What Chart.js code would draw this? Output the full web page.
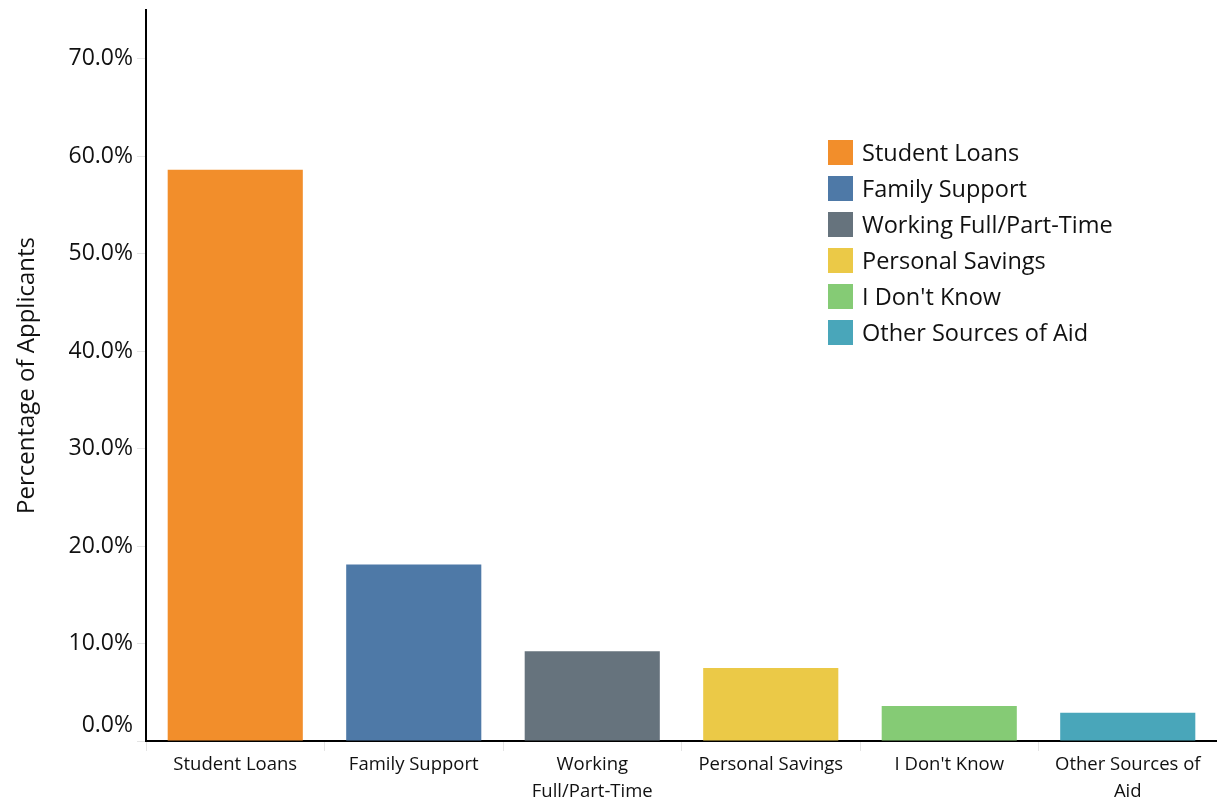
<!DOCTYPE html>
<html>
<head>
<meta charset="utf-8">
<script src="https://cdn.jsdelivr.net/npm/chart.js@4.4.1/dist/chart.umd.min.js"></script>
<style>
  html, body { margin: 0; padding: 0; background: #fff; }
  #wrap { position: relative; width: 1217px; height: 802px; }
  #legend { position: absolute; left: 828px; top: 134px; font-family: "Open Sans", sans-serif; font-size: 23.5px; color: #111; }
  .item { display: flex; align-items: center; height: 36px; }
  .box { width: 25px; height: 25px; margin-right: 9px; }
</style>
</head>
<body>
<div id="wrap">
  <canvas id="chart" width="1217" height="802"></canvas>
  <div id="legend"></div>
</div>
<script>
// =============== DATA ===============
const categories = ["Student Loans", "Family Support", "Working Full/Part-Time", "Personal Savings", "I Don't Know", "Other Sources of Aid"];
const axisLabels = [["Student Loans"], ["Family Support"], ["Working", "Full/Part-Time"], ["Personal Savings"], ["I Don't Know"], ["Other Sources of", "Aid"]];
const shares = [58.6, 18.1, 9.2, 7.5, 3.6, 2.9];
const colors = ["#F28E2B", "#4E79A7", "#66737D", "#EBC947", "#85CB75", "#49A6BA"];
const yTicks = [0, 10, 20, 30, 40, 50, 60, 70];

const FONT = "'Open Sans', sans-serif";

// Draw y tick labels by hand so the 0.0% label can sit a bit higher
const yLabelPlugin = {
  id: "yLabels",
  afterDraw(chart) {
    const { ctx } = chart;
    const y = chart.scales.y;
    ctx.save();
    ctx.font = `23px ${FONT}`;
    ctx.fillStyle = "#111";
    ctx.textAlign = "right";
    ctx.textBaseline = "middle";
    yTicks.forEach((v) => {
      const py = y.getPixelForValue(v) - (v === 0 ? 16 : 0);
      ctx.fillText(v.toFixed(1) + "%", 133, py);
    });
    ctx.restore();
  },
};

new Chart(document.getElementById("chart"), {
  type: "bar",
  data: {
    labels: axisLabels,
    datasets: [
      {
        label: "Percentage of Applicants",
        data: shares,
        backgroundColor: colors,
        categoryPercentage: 1,
        barPercentage: 0.757,
      },
    ],
  },
  options: {
    responsive: false,
    animation: false,
    layout: { padding: { top: 10, right: 0, left: 0, bottom: 0 } },
    plugins: { legend: { display: false }, tooltip: { enabled: false } },
    scales: {
      x: {
        border: { color: "#000", width: 2 },
        grid: { drawOnChartArea: false, drawTicks: true, tickLength: 10, color: "#e4e4e4", offset: true },
        ticks: { color: "#111", font: { family: FONT, size: 18.5, lineHeight: 1.45 }, padding: 0, maxRotation: 0, autoSkip: false },
        afterFit(scale) { scale.height = 61; },
      },
      y: {
        min: 0,
        max: 75,
        afterBuildTicks(scale) { scale.ticks = yTicks.map((v) => ({ value: v })); },
        border: { color: "#000", width: 2 },
        grid: { drawOnChartArea: false, drawTicks: true, tickLength: 9, color: "#e4e4e4" },
        ticks: { display: false },
        title: { display: true, text: "Percentage of Applicants", color: "#111", font: { family: FONT, size: 24 }, padding: { top: 13, bottom: 0 } },
        afterFit(scale) { scale.width = 146; },
      },
    },
  },
  plugins: [yLabelPlugin],
});

// =============== LEGEND ===============
const legend = document.getElementById("legend");
categories.forEach((name, i) => {
  const div = document.createElement("div");
  div.className = "item";
  div.innerHTML = `<span class="box" style="background:${colors[i]}"></span><span>${name}</span>`;
  legend.appendChild(div);
});
</script>
</body>
</html>
